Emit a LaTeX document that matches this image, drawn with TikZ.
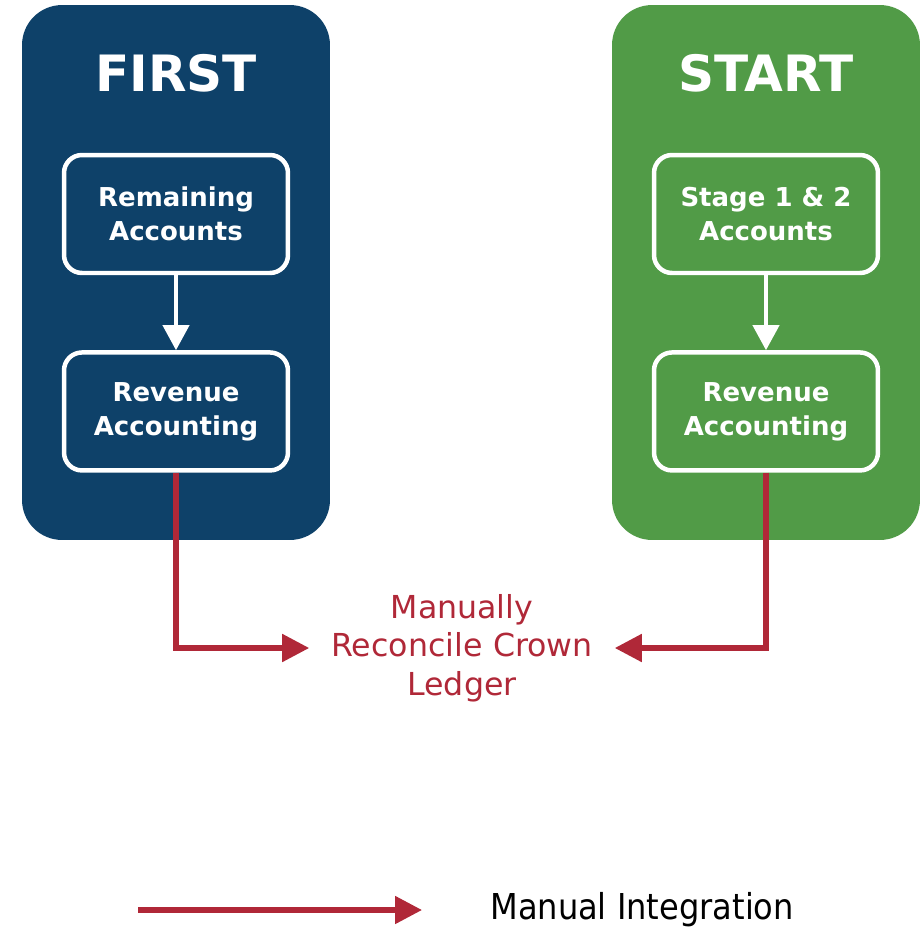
\documentclass[tikz,border=0pt]{standalone}
\usepackage{fontspec}
\setmainfont{DejaVu Sans}
\newfontfamily\condfont{DejaVu Sans Condensed}
\usepackage{tikz}
\usetikzlibrary{arrows.meta}
\usetikzlibrary{positioning}
\definecolor{firstblue}{HTML}{0E4169}
\definecolor{startgreen}{HTML}{519B47}
\definecolor{manualred}{HTML}{B02838}
\tikzset{
  x = 0.02cm, y = -0.02cm,
  panel/.style = {rounded corners = 0.8cm, minimum width = 6.16cm, minimum height = 10.7cm, inner sep = 0},
  title/.style = {text = white, font = \bfseries\fontsize{28.5}{34}\selectfont},
  stagebox/.style = {draw = white, line width = 2.55pt, rounded corners = 0.36cm, text = white,
    minimum width = 4.48cm, minimum height = 2.36cm, align = center,
    font = \bfseries\fontsize{14.8}{18.4}\selectfont},
  flow/.style = {draw = white, line width = 2.3pt, -{Triangle[length = 0.5cm, width = 0.52cm]}},
  manual/.style = {draw = manualred, line width = 2.9pt, -{Triangle[length = 0.54cm, width = 0.54cm]}},
}

\begin{document}
\begin{tikzpicture}
  \useasboundingbox (0,0) rectangle (920,927);
  % panels
  \node [panel, fill = firstblue] (first) at (176,272.5) {};
  \node [panel, fill = startgreen] (start) at (766,272.5) {};
  \node [title] (firsttitle) at (176,73) {FIRST};
  \node [title] (starttitle) at (766,73) {START};
  % boxes
  \node [stagebox] (remain) at (176,214) {Remaining\\[1pt]Accounts};
  \node [stagebox, below = 1.5cm of remain] (rev1) {Revenue\\[1pt]Accounting};
  \node [stagebox] (stages) at (766,214) {Stage 1 \& 2\\[1pt]Accounts};
  \node [stagebox, below = 1.5cm of stages] (rev2) {Revenue\\[1pt]Accounting};
  \draw [flow] (remain) -- (rev1);
  \draw [flow] (stages) -- (rev2);
  % reconcile
  \node [text = manualred, text width = 5.3cm, inner xsep = 0.4cm, align = center,
    font = \fontsize{18}{22}\selectfont] (recon) at (462,648)
    {Manually\\Reconcile Crown\\Ledger};
  \draw [manual] (rev1.south) |- (recon.west);
  \draw [manual] (rev2.south) |- (recon.east);
  % legend
  \coordinate (legA) at (138,910);
  \coordinate (legB) at (422,910);
  \draw [manual] (legA) -- (legB);
  \node [anchor = west, inner sep = 0, font = \condfont\fontsize{20.3}{22}\selectfont] (legtext)
    at (490,910) {Manual Integration};
\end{tikzpicture}
\end{document}
